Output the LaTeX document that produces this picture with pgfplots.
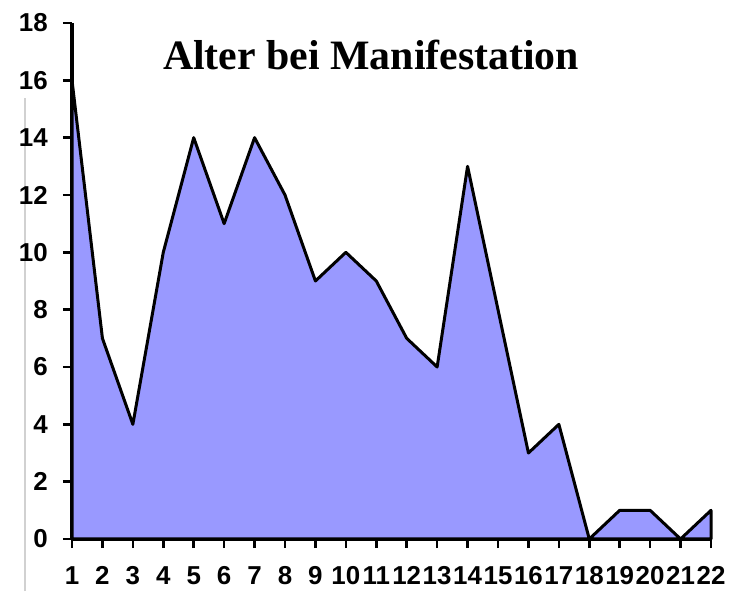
\documentclass[border=0pt]{standalone}
\usepackage{fontspec}
\setmainfont{Liberation Serif}
\setsansfont{Liberation Sans}
\usepackage{pgfplots}
\pgfplotsset{compat=1.18}
\definecolor{areafill}{HTML}{9999FF}
\begin{document}
\begin{tikzpicture}
\draw[color=black!18, line width=2bp] (-47bp,-52bp) -- ++(0,493bp);
\begin{axis}[
  name=ax,
  at={(0,0)}, anchor=south west,
  scale only axis,
  width=639bp, height=516bp,
  xmin=1, xmax=22, ymin=0, ymax=18,
  axis lines*=left,
  axis line style={black, line width=3bp},
  xtick={1,...,22},
  ytick={0,2,...,18},
  tick align=outside,
  major tick length=9bp,
  tick style={black, line width=2.5bp},
  ticklabel style={font=\sffamily\bfseries\fontsize{26}{26}\selectfont},
  /pgf/number format/assume math mode=true,
  xticklabel style={inner xsep=0pt, inner ysep=0pt, yshift=-18bp},
  yticklabel style={inner xsep=0pt, xshift=-15bp},
  clip=false,
]
\addplot[draw=black, line width=3bp, fill=areafill, line join=round] coordinates {
(1,16) (2,7) (3,4) (4,10) (5,14) (6,11) (7,14) (8,12) (9,9) (10,10) (11,9)
(12,7) (13,6) (14,13) (15,8) (16,3) (17,4) (18,0) (19,1) (20,1) (21,0) (22,1)
} \closedcycle;
\node[anchor=base, font=\bfseries\fontsize{42}{42}\selectfont] at (rel axis cs:0.468,0.909) {Alter bei Manifestation};
\end{axis}
\path (ax.south west) ++(-72bp,-52bp) rectangle ++(730bp,591bp);
\end{tikzpicture}
\end{document}
